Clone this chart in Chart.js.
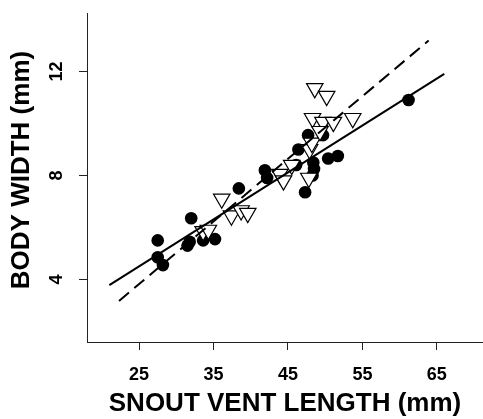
<!DOCTYPE html>
<html>
<head>
<meta charset="utf-8">
<script src="https://cdn.jsdelivr.net/npm/chart.js@4"></script>
<style>
    html, body { margin: 0; padding: 0; background: #fff; }
    #wrap { width: 483px; height: 419px; }
</style>
</head>
<body>
<div id="wrap"><canvas id="grafico"></canvas></div>
<script>
// Datos (SVL mm, ancho cuerpo mm)
const circulosSVL = [27.5, 27.5, 28.2, 32.0, 31.5, 31.8, 33.6, 35.2, 38.4, 41.9, 42.2, 46.1, 46.4, 47.7, 49.7, 48.4, 48.5, 48.3, 50.4, 51.7, 47.3, 61.2];
const circulosAncho = [5.5, 4.85, 4.55, 6.35, 5.3, 5.45, 5.5, 5.55, 7.5, 8.2, 7.9, 8.4, 9.0, 9.55, 9.55, 8.5, 8.25, 8.0, 8.65, 8.75, 7.35, 10.9];

const triangulosSVL = [33.6, 34.3, 36.1, 37.4, 38.7, 39.6, 43.9, 44.4, 45.5, 47.9, 48.2, 47.8, 48.3, 49.7, 51.1, 53.7, 48.6, 50.2, 49.3];
const triangulosAncho = [5.85, 5.9, 7.1, 6.45, 6.65, 6.55, 8.05, 7.8, 8.4, 9.0, 9.25, 7.9, 10.2, 10.05, 10.05, 10.2, 11.35, 11.05, 9.7];

// rectas de regresion (extremos)
const rectaSolidaX = [21, 66];
const rectaSolidaY = [3.78, 11.91];
const rectaPunteadaX = [22.3, 63.9];
const rectaPunteadaY = [3.17, 13.19];

const ticksX = [25, 35, 45, 55, 65];
const ticksY = [4, 8, 12];

function puntos(xs, ys) {
    return xs.map((x, i) => ({ x: x, y: ys[i] }));
}

const fuente = "'Liberation Sans', Arial, sans-serif";
const colorEje = '#222';

// etiquetas del eje Y rotadas (estilo R)
const etiquetasY = {
    id: 'etiquetasY',
    afterDraw(chart) {
        const ctx = chart.ctx;
        const esc = chart.scales.y;
        ctx.save();
        ctx.fillStyle = '#000';
        ctx.font = 'bold 18px ' + fuente;
        ctx.textAlign = 'center';
        ctx.textBaseline = 'middle';
        ticksY.forEach(v => {
            const py = esc.getPixelForValue(v);
            ctx.save();
            ctx.translate(57, py);
            ctx.rotate(-Math.PI / 2);
            ctx.fillText(String(v), 0, 0);
            ctx.restore();
        });
        ctx.font = 'bold 26px ' + fuente;
        ctx.translate(22, 170);
        ctx.rotate(-Math.PI / 2);
        ctx.fillText('BODY WIDTH (mm)', 0, 0);
        ctx.restore();
    }
};

new Chart(document.getElementById('grafico'), {
    type: 'scatter',
    data: {
        datasets: [
            {
                type: 'line',
                data: puntos(rectaSolidaX, rectaSolidaY),
                borderColor: '#000',
                borderWidth: 2,
                pointRadius: 0,
                fill: false,
                order: 0
            },
            {
                type: 'line',
                data: puntos(rectaPunteadaX, rectaPunteadaY),
                borderColor: '#000',
                borderWidth: 2,
                borderDash: [13, 7],
                pointRadius: 0,
                fill: false,
                order: 0
            },
            {
                data: puntos(triangulosSVL, triangulosAncho),
                pointStyle: 'triangle',
                rotation: 180,
                pointRadius: 9.5,
                backgroundColor: '#fff',
                borderColor: '#000',
                borderWidth: 1.2,
                order: 1
            },
            {
                data: puntos(circulosSVL, circulosAncho),
                pointStyle: 'circle',
                pointRadius: 6.3,
                backgroundColor: '#000',
                borderColor: '#000',
                borderWidth: 0,
                order: 2
            }
        ]
    },
    options: {
        responsive: true,
        maintainAspectRatio: false,
        animation: false,
        layout: { autoPadding: false, padding: { top: 13, right: 0, left: 0, bottom: 0 } },
        plugins: {
            legend: { display: false },
            tooltip: { enabled: false }
        },
        scales: {
            x: {
                type: 'linear',
                min: 18,
                max: 71.2,
                afterBuildTicks: s => { s.ticks = ticksX.map(v => ({ value: v })); },
                afterFit: s => { s.height = 77; s.paddingLeft = 0; s.paddingRight = 0; },
                grid: { display: true, drawOnChartArea: false, drawTicks: true, tickLength: 8, color: colorEje, lineWidth: 1 },
                border: { display: true, color: colorEje, width: 1 },
                ticks: { color: '#000', padding: 14, maxRotation: 0, font: { family: fuente, size: 18, weight: 'bold' } },
                title: {
                    display: true,
                    text: 'SNOUT VENT LENGTH (mm)',
                    color: '#000',
                    padding: { top: 0, bottom: 0 },
                    font: { family: fuente, size: 26, weight: 'bold' }
                }
            },
            y: {
                type: 'linear',
                min: 1.59,
                max: 14.25,
                afterBuildTicks: s => { s.ticks = ticksY.map(v => ({ value: v })); },
                afterFit: s => { s.width = 87; s.paddingTop = 0; s.paddingBottom = 0; },
                grid: { display: true, drawOnChartArea: false, drawTicks: true, tickLength: 8, color: colorEje, lineWidth: 1 },
                border: { display: true, color: colorEje, width: 1 },
                ticks: { display: false }
            }
        }
    },
    plugins: [etiquetasY]
});
</script>
</body>
</html>
